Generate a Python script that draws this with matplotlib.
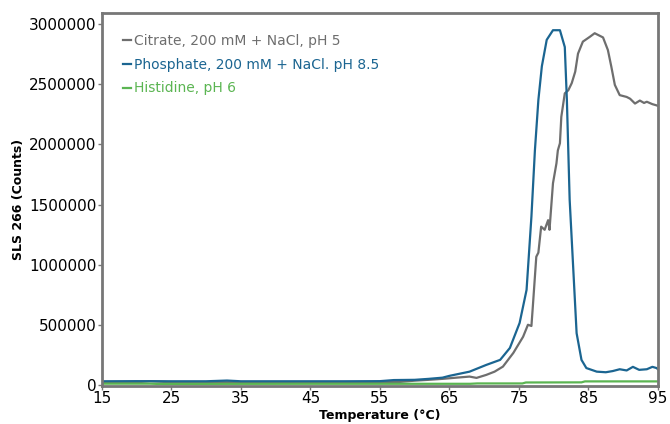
import matplotlib.pyplot as plt
from matplotlib.ticker import FuncFormatter

# Citrate, 200 mM + NaCl, pH 5
citrate_t = [15, 20, 22, 25, 30, 35, 40, 45, 50, 55, 58, 60, 62, 64, 66, 67.9, 68.9, 70.3,
             71.5, 72.7, 74.2, 75.6, 76.3, 76.8, 77.0, 77.5, 77.8, 78.2, 78.7, 79.2, 79.4,
             79.9, 80.4, 80.6, 80.9, 81.1, 81.6, 82.1, 82.6, 83.1, 83.5, 84.2, 85.2, 85.9,
             87.1, 87.8, 88.3, 88.8, 89.5, 90.5, 91.0, 91.7, 92.4, 93.0, 93.4, 94.2, 94.8, 95]
citrate_v = [22000, 22000, 30000, 22000, 23000, 22000, 22000, 21000, 22000, 22000, 25000,
             35000, 42000, 50000, 60000, 69000, 58000, 83000, 110000, 152000, 266000, 400000,
             500000, 490000, 650000, 1066000, 1100000, 1316000, 1290000, 1370000, 1290000,
             1677000, 1843000, 1950000, 2010000, 2230000, 2425000, 2450000, 2510000, 2605000,
             2755000, 2855000, 2895000, 2925000, 2890000, 2785000, 2645000, 2495000, 2410000,
             2395000, 2380000, 2340000, 2365000, 2345000, 2355000, 2335000, 2325000, 2320000]

# Phosphate, 200 mM + NaCl, pH 8.5
phosphate_t = [15, 20, 25, 30, 33, 35, 40, 45, 50, 55, 57, 60, 62, 64, 65, 67.9, 70.3, 72.3,
               73.7, 75.1, 76.1, 76.8, 77.3, 77.8, 78.3, 79.0, 79.9, 80.9, 81.6, 81.9, 82.3,
               82.8, 83.3, 84.0, 84.7, 86.2, 87.5, 88.5, 89.5, 90.5, 91.4, 92.3, 93.4, 94.2, 94.8, 95]
phosphate_v = [30000, 31000, 30000, 30000, 36000, 30000, 30000, 30000, 30000, 31000, 40000,
               42000, 50000, 60000, 75000, 110000, 166000, 208000, 307000, 515000, 790000,
               1400000, 1950000, 2370000, 2650000, 2870000, 2950000, 2950000, 2810000, 2370000,
               1540000, 985000, 430000, 208000, 140000, 110000, 105000, 115000, 130000, 120000,
               150000, 125000, 130000, 150000, 140000, 130000]

# Histidine, pH 6
histidine_t = [15, 22, 23, 45, 68, 69, 75.5, 76, 84, 84.5, 95]
histidine_v = [10000, 10000, 8000, 9000, 9000, 12000, 12000, 20000, 21000, 29000, 29000]

x_ticks = [15, 25, 35, 45, 55, 65, 75, 85, 95]
y_ticks = [0, 500000, 1000000, 1500000, 2000000, 2500000, 3000000]

gray, blue, green = "#6e6e6e", "#1b6591", "#5bb552"

plt.rcParams['font.family'] = ['DejaVu Sans']
fig = plt.figure(figsize=(6.7, 4.24), dpi=100)
ax = fig.add_axes([0.152, 0.09, 0.83, 0.879])

ax.plot(citrate_t, citrate_v, color=gray, lw=1.6, label="Citrate, 200 mM + NaCl, pH 5")
ax.plot(phosphate_t, phosphate_v, color=blue, lw=1.6, label="Phosphate, 200 mM + NaCl. pH 8.5")
ax.plot(histidine_t, histidine_v, color=green, lw=1.6, label="Histidine, pH 6")

ax.set_xlim(15, 95)
ax.set_ylim(-8000, 3092000)
ax.set_xticks(x_ticks)
ax.set_yticks(y_ticks)
ax.yaxis.set_major_formatter(FuncFormatter(lambda v, p: f"{int(v)}"))
ax.tick_params(axis='both', labelsize=11, color="#777777", length=3, width=1, pad=1)

for s in ax.spines.values():
    s.set_color("#777777")
    s.set_linewidth(2)

ax.set_xlabel("Temperature (°C)", fontsize=9, fontweight='bold', labelpad=2)
ax.set_ylabel("SLS 266 (Counts)", fontsize=9, fontweight='bold', labelpad=3)

leg = ax.legend(loc='upper left', frameon=False, fontsize=10, handlelength=0.6,
                handletextpad=0.2, labelspacing=0.7, borderaxespad=0.3,
                bbox_to_anchor=(0.02, 0.97))
for txt, c in zip(leg.get_texts(), [gray, blue, green]):
    txt.set_color(c)

fig.savefig("out.png", dpi=100)
